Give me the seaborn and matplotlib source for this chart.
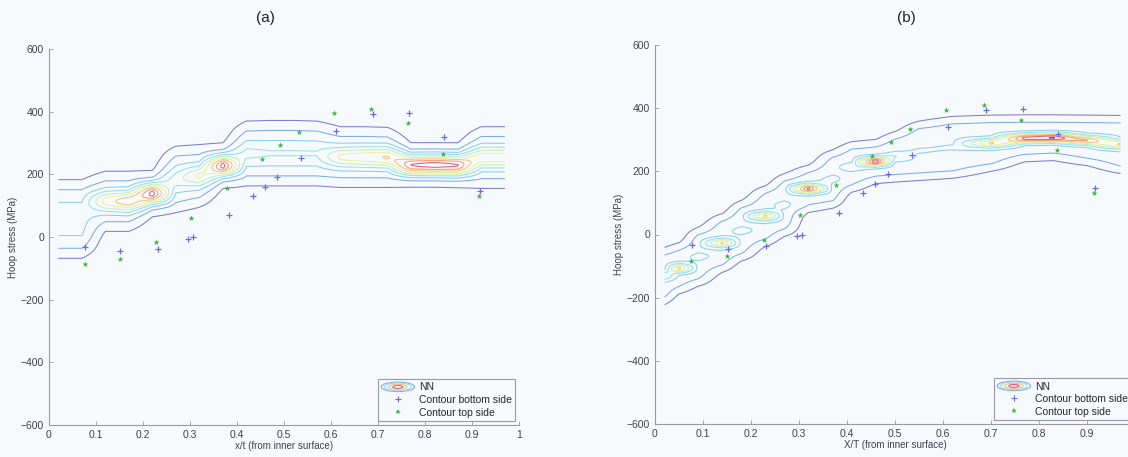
import numpy as np
import pandas as pd
import seaborn as sns
import matplotlib.pyplot as plt
from matplotlib.patches import Ellipse, Patch
from matplotlib.lines import Line2D
from matplotlib.legend_handler import HandlerBase

# Измеренные точки (одинаковые на обеих панелях)
x_bottom = [0.077, 0.152, 0.231, 0.296, 0.307, 0.383, 0.434, 0.459, 0.486, 0.536, 0.611, 0.689, 0.766, 0.840, 0.917]
y_bottom = [-32, -46, -37, -5, 0, 69, 130, 160, 190, 253, 339, 394, 396, 318, 148]
x_top = [0.076, 0.151, 0.227, 0.303, 0.378, 0.453, 0.491, 0.531, 0.607, 0.685, 0.763, 0.838, 0.915]
y_top = [-85, -69, -17, 62, 157, 250, 293, 334, 395, 409, 364, 266, 131]

# Выход сети NN, панель (a): верхняя/нижняя граница полосы и высота пика по станциям
xs_a = [0.02, 0.07, 0.12, 0.17, 0.22, 0.27, 0.32, 0.37, 0.42, 0.47, 0.52, 0.57, 0.62, 0.67, 0.72, 0.77, 0.82, 0.87, 0.92, 0.97]
upper_a = [183, 183, 210, 210, 212, 290, 295, 300, 370, 372, 372, 370, 352, 352, 350, 300, 300, 300, 352, 352]
lower_a = [-68, -68, 18, 18, 65, 78, 95, 155, 163, 163, 163, 163, 158, 158, 158, 160, 160, 158, 155, 155]
peak_a = [0.0, 0.0, 0.3, 0.42, 0.62, 0.12, 0.28, 0.62, 0.1, 0.08, 0.08, 0.08, 0.28, 0.32, 0.36, 0.58, 0.62, 0.58, 0.32, 0.32]

# Панель (b)
xs_b = [0.02, 0.05, 0.09, 0.14, 0.18, 0.23, 0.27, 0.32, 0.37, 0.41, 0.46, 0.50, 0.55, 0.62, 0.70, 0.77, 0.83, 0.90, 0.97]
upper_b = [-41, -26, 23, 66, 108, 154, 193, 220, 268, 294, 301, 326, 359, 374, 378, 379, 379, 378, 377]
lower_b = [-222, -188, -164, -120, -84, -38, -6, 70, 83, 134, 161, 166, 171, 178, 200, 230, 234, 218, 193]
peak_b = [0.2, 0.42, 0.05, 0.4, 0.05, 0.42, 0.05, 0.6, 0.05, 0.08, 0.66, 0.12, 0.03, 0.03, 0.4, 0.6, 0.67, 0.48, 0.4]

levels = [0.08, 0.17, 0.26, 0.35, 0.44, 0.53, 0.62, 0.71, 0.80, 0.89]
level_colors = ['#7c7cd2', '#80aaea', '#8ccdf2', '#94e2ea', '#c4eec4', '#eef09a',
                '#f4c67e', '#f2a070', '#ec5a78', '#b0408a']
bg = '#f6fafc'
c_bottom = '#6c6ce0'
c_top = '#3cb43c'


def nn_field(xs, upper, lower, peak, soft, sd_peak, base):
    yg = np.linspace(-600, 600, 1201)[:, None]
    up = np.array(upper, float)[None, :]
    lo = np.array(lower, float)[None, :]
    pk = np.array(peak, float)[None, :]
    off = soft * np.log(base / levels[0] - 1)
    band = base / (1 + np.exp((yg - (up - off)) / soft)) / (1 + np.exp(((lo + off) - yg) / soft))
    mid = (up + lo) / 2
    z = band + pk * np.exp(-0.5 * ((yg - mid) / sd_peak) ** 2)
    return np.array(xs), yg[:, 0], z


class NNHandler(HandlerBase):
    def create_artists(self, legend, orig_handle, xdescent, ydescent, width, height, fontsize, trans):
        cx, cy = width / 2 - xdescent, height / 2 - ydescent
        arts = []
        for f, c in zip([1.0, 0.8, 0.55, 0.3], ['#80aaea', '#94e2ea', '#f4c67e', '#ec5a78']):
            arts.append(Ellipse((cx, cy), width * f, height * 1.3 * f, fill=False,
                                edgecolor=c, lw=0.8, transform=trans))
        return arts


sns.set_style("ticks")
plt.rcParams['font.family'] = ['Liberation Sans', 'DejaVu Sans']

fig = plt.figure(figsize=(11.28, 4.57), dpi=100, facecolor=bg)
W, H = 1128, 457
ax_a = fig.add_axes([49 / W, 1 - 425 / H, 470 / W, 376 / H])
ax_b = fig.add_axes([655 / W, 1 - 424 / H, 480 / W, 379 / H])

panels = [
    (ax_a, xs_a, upper_a, lower_a, peak_a, 25, 22, 0.3, 'x/t (from inner surface)', '1'),
    (ax_b, xs_b, upper_b, lower_b, peak_b, 15, 10, 0.24, 'X/T (from inner surface)', ''),
]

for ax, xs, up, lo, pk, soft, sdp, base, xlab, last in panels:
    ax.set_facecolor(bg)
    X, Y, Z = nn_field(xs, up, lo, pk, soft, sdp, base)
    ax.contour(X, Y, Z, levels=levels, colors=level_colors, linewidths=0.75)
    sns.scatterplot(x=x_bottom, y=y_bottom, marker='+', color=c_bottom, s=20,
                    linewidth=0.9, ax=ax, zorder=3)
    sns.scatterplot(x=x_top, y=y_top, marker='*', color=c_top, s=20,
                    linewidth=0, ax=ax, zorder=3)
    ax.set_xlim(0, 1)
    ax.set_ylim(-600, 600)
    ax.set_xticks(np.arange(0, 1.01, 0.1))
    ax.set_xticklabels(['0', '0.1', '0.2', '0.3', '0.4', '0.5', '0.6', '0.7', '0.8', '0.9', last])
    ax.set_yticks(np.arange(-600, 601, 200))
    ax.tick_params(direction='in', length=3, width=0.6, colors='#9a9aa6',
                   labelcolor='#404050', labelsize=7.5)
    for sp in ['top', 'right']:
        ax.spines[sp].set_visible(False)
    for sp in ['left', 'bottom']:
        ax.spines[sp].set_color('#9a9aa6')
        ax.spines[sp].set_linewidth(0.8)
    ax.set_xlabel(xlab, fontsize=7, color='#404050', labelpad=1)
    ax.set_ylabel('Hoop stress (MPa)', fontsize=7, color='#404050', labelpad=2)

    nn_proxy = Patch()
    handles = [nn_proxy,
               Line2D([], [], marker='+', ls='', color=c_bottom, ms=4, mew=0.8),
               Line2D([], [], marker='*', ls='', color=c_top, ms=4, mew=0)]
    leg = ax.legend(handles, ['NN', 'Contour bottom side', 'Contour top side'],
                    handler_map={nn_proxy: NNHandler()}, loc='lower right',
                    fontsize=7.5, frameon=True, fancybox=False, edgecolor='#9a9aa6',
                    facecolor=bg, framealpha=1, handlelength=3.2, borderpad=0.3,
                    labelspacing=0.25, handletextpad=0.4, borderaxespad=0.4)
    leg.get_frame().set_linewidth(0.8)

fig.text(265 / W, 1 - 18 / H, '(a)', ha='center', va='center', fontsize=11, color='#202030')
fig.text(906 / W, 1 - 18 / H, '(b)', ha='center', va='center', fontsize=11, color='#202030')

fig.savefig('out.png', dpi=100, facecolor=bg)
